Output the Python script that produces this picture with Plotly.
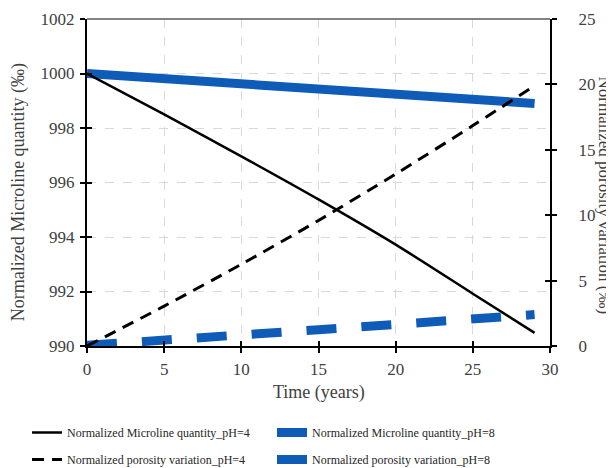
import plotly.graph_objects as go

# ---- data ----
years = [0, 5, 10, 15, 20, 25, 29]
microline_ph4 = [1000.0, 998.5, 996.96, 995.38, 993.72, 991.92, 990.48]
microline_ph8 = [1000.0, 999.8, 999.61, 999.43, 999.25, 999.08, 998.9]
porosity_ph4 = [0.0, 3.05, 6.25, 9.6, 13.15, 16.85, 19.9]
porosity_ph8 = [0.05, 0.4, 0.85, 1.25, 1.65, 2.1, 2.4]

x_ticks = [0, 5, 10, 15, 20, 25, 30]
left_ticks = [990, 992, 994, 996, 998, 1000, 1002]
right_ticks = [0, 5, 10, 15, 20, 25]

names = [
    "Normalized Microline quantity_pH=4",
    "Normalized Microline quantity_pH=8",
    "Normalized porosity variation_pH=4",
    "Normalized porosity variation_pH=8",
]

BLUE = "#0f5bb8"
FONT = "Liberation Serif"
TXT = "#404040"

fig = go.Figure()

fig.add_trace(go.Scatter(x=years, y=microline_ph8, name=names[1], mode="lines",
                         line=dict(color=BLUE, width=9), legend="legend2",
                         legendgroup="b1"))
fig.add_trace(go.Scatter(x=years, y=porosity_ph8, name=names[3], mode="lines",
                         line=dict(color=BLUE, width=9, dash="30px,25px"),
                         yaxis="y2", legend="legend2", legendgroup="b2"))
fig.add_trace(go.Scatter(x=years, y=microline_ph4, name=names[0], mode="lines",
                         line=dict(color="black", width=2.5, shape="spline",
                                   smoothing=0.8),
                         legend="legend", legendgroup="a1"))
fig.add_trace(go.Scatter(x=years, y=porosity_ph4, name=names[2], mode="lines",
                         line=dict(color="black", width=3, dash="12px,8px",
                                   shape="spline", smoothing=0.8),
                         yaxis="y2", legend="legend", legendgroup="a2"))

# dummy traces so the inside-tick overlay axes are drawn
fig.add_trace(go.Scatter(x=[None], y=[None], xaxis="x2", yaxis="y3",
                         showlegend=False, hoverinfo="skip"))
fig.add_trace(go.Scatter(x=[None], y=[None], xaxis="x2", yaxis="y4",
                         showlegend=False, hoverinfo="skip"))

tickfont = dict(family=FONT, size=17, color=TXT)
legfont = dict(family=FONT, size=12, color="#262626")

# page body has an 8px margin: figure sized to fill the rest of the window
fig.update_layout(
    template="none",
    width=606, height=460,
    margin=dict(l=79, r=64, t=11, b=122, autoexpand=False),
    paper_bgcolor="white", plot_bgcolor="white",
    font=dict(family=FONT, color=TXT),
    xaxis=dict(range=[0, 30], tickvals=x_ticks, ticks="outside", ticklen=5,
               tickwidth=1.5, tickcolor="black", showline=True, linecolor="black",
               linewidth=2, showgrid=True, gridcolor="#d9d9d9", griddash="dash",
               gridwidth=1, zeroline=False, tickfont=tickfont,
               ticklabelstandoff=2, automargin=False),
    yaxis=dict(range=[990, 1002], tickvals=left_ticks, ticks="outside", ticklen=5,
               tickwidth=1.5, tickcolor="black", showline=True, linecolor="black",
               linewidth=2, showgrid=True, gridcolor="#d9d9d9", griddash="dash",
               gridwidth=1, zeroline=False, tickfont=tickfont,
               ticklabelstandoff=2, automargin=False),
    yaxis2=dict(range=[0, 25], tickvals=right_ticks, overlaying="y", side="right",
                ticks="outside", ticklen=5, tickwidth=1.5, tickcolor="black",
                showline=True, linecolor="black", linewidth=2, showgrid=False,
                zeroline=False, tickfont=tickfont, ticklabelstandoff=18,
                automargin=False),
    xaxis2=dict(range=[0, 30], tickvals=x_ticks, overlaying="x", anchor="y3",
                ticks="inside", ticklen=5, tickwidth=1.5, tickcolor="black",
                showticklabels=False, showgrid=False, showline=False,
                zeroline=False, automargin=False),
    yaxis3=dict(range=[990, 1002], tickvals=left_ticks, overlaying="y", anchor="x2",
                ticks="inside", ticklen=5, tickwidth=1.5, tickcolor="black",
                showticklabels=False, showgrid=False, showline=False,
                zeroline=False, automargin=False),
    yaxis4=dict(range=[0, 25], tickvals=right_ticks, overlaying="y", side="right",
                anchor="x2", ticks="inside", ticklen=5, tickwidth=1.5,
                tickcolor="black", showticklabels=False, showgrid=False,
                showline=False, zeroline=False, automargin=False),
    legend=dict(xref="container", yref="container", x=0.0314, xanchor="left",
                y=0.1087, yanchor="top", orientation="v", tracegroupgap=8,
                bgcolor="rgba(0,0,0,0)", font=legfont),
    legend2=dict(xref="container", yref="container", x=0.4356, xanchor="left",
                 y=0.1087, yanchor="top", orientation="v", tracegroupgap=8,
                 bgcolor="rgba(0,0,0,0)", font=legfont),
    showlegend=True,
)

# top border of plot area
fig.add_shape(type="line", xref="paper", yref="paper", x0=0, x1=1, y0=1, y1=1,
              line=dict(color="#595959", width=1.5), layer="above")

# axis titles
fig.add_annotation(text="Time (years)", xref="paper", yref="paper", x=0.5,
                   y=-0.1437, yanchor="middle", showarrow=False,
                   font=dict(family=FONT, size=18, color=TXT))
fig.add_annotation(text="Normalized Microline quantity (‰)", xref="paper",
                   yref="paper", x=-0.149, y=0.47, textangle=-90,
                   xanchor="center", yanchor="middle", showarrow=False,
                   font=dict(family=FONT, size=18, color=TXT))
fig.add_annotation(text="Normalized porosity variation (‰)", xref="paper",
                   yref="paper", x=1.1166, y=0.46, textangle=90,
                   xanchor="center", yanchor="middle", showarrow=False,
                   font=dict(family=FONT, size=17, color=TXT))

fig.write_html("out.html")
